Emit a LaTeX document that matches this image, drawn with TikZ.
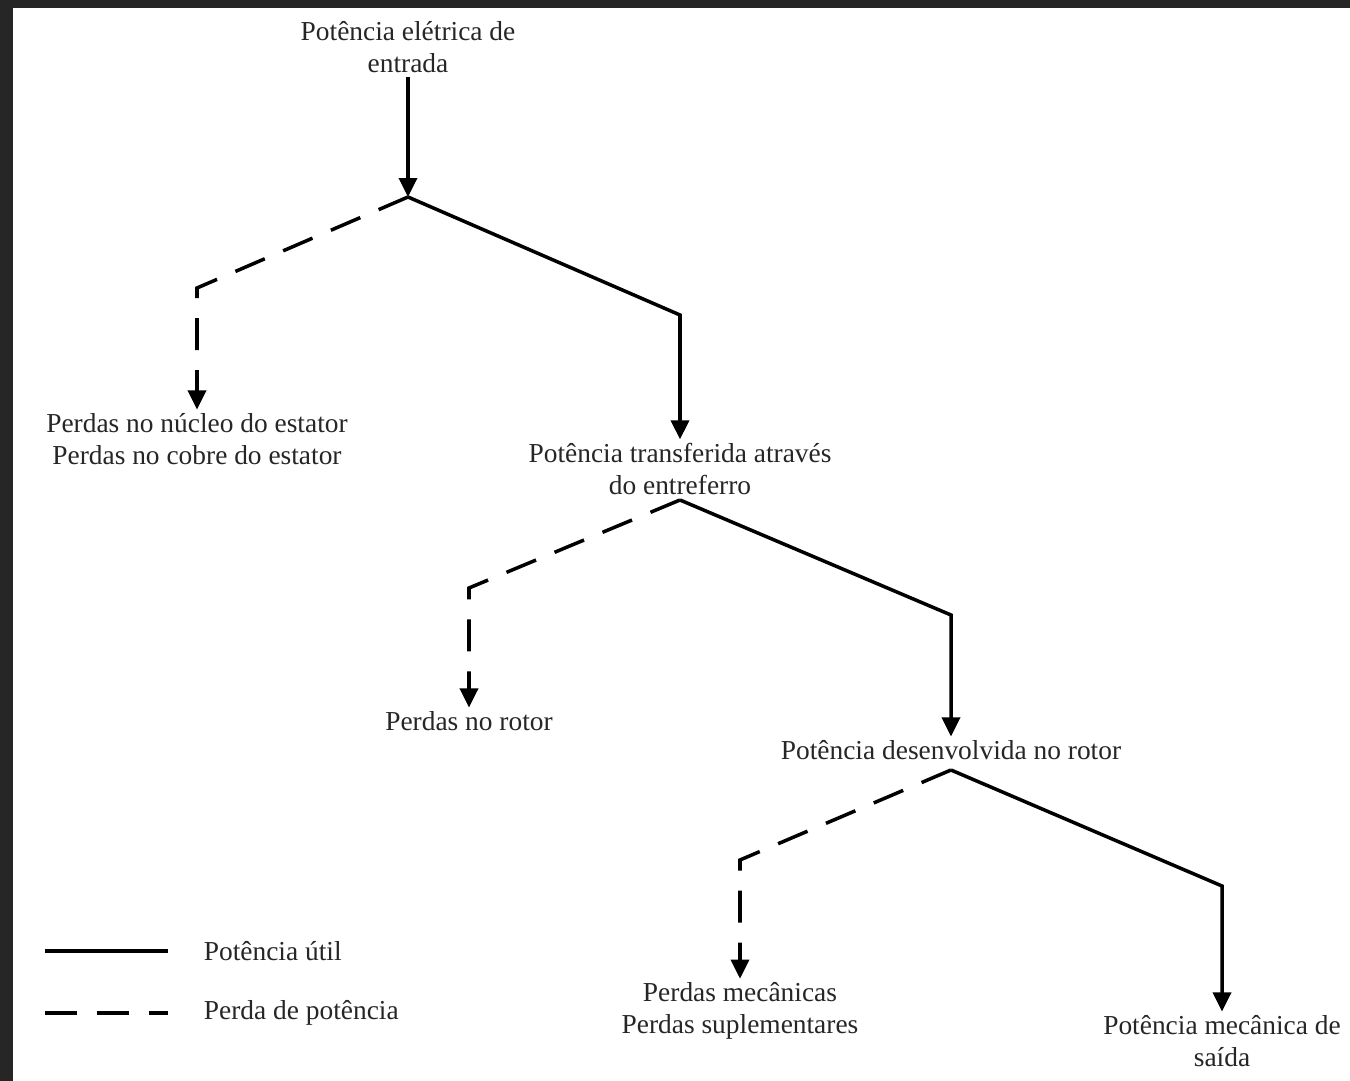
\documentclass[tikz,border=0pt]{standalone}
\usepackage{fontspec}
\setmainfont{Liberation Serif}
\usetikzlibrary{arrows.meta}

\begin{document}
\begin{tikzpicture}[x=0.02cm,y=-0.02cm,
			util/.style={line width=2pt},
			perda/.style={line width=2pt,dash pattern=on 0.64cm off 0.4cm},
			seta/.style={-{Triangle[length=0.38cm,width=0.36cm]}},
			rotulo/.style={font=\fontsize{15.6}{18.2}\selectfont,align=center,inner sep=2pt,text=black!85}]
			          %fond
			          \fill[black!85] (0,0) rectangle (1350,1081);
			          \fill[white] (13,8) rectangle (1350,1081);
			          \useasboundingbox (0,0) rectangle (1350,1081);
			          
			          \node[rotulo] (entrada) at (408,47) {Potência elétrica de\\entrada};
			          \node[rotulo] (estator) at (197,439) {Perdas no núcleo do estator\\Perdas no cobre do estator};
			          \node[rotulo] (transf) at (680,469) {Potência transferida através\\do entreferro};
			          \node[rotulo] (rotor) at (469,721) {Perdas no rotor};
			          \node[rotulo] (desenv) at (951,750) {Potência desenvolvida no rotor};
			          \node[rotulo] (mec) at (740,1011) {Perdas mecânicas\\Perdas suplementares};
			          \node[rotulo] (saida) at (1222,1041) {Potência mecânica de\\saída};
			          
			          \coordinate (j1) at (408,197);
			          \coordinate (j2) at (680,500);
			          \coordinate (j3) at (951,770);
			          \coordinate (c1) at (680,315);
			          \coordinate (d1) at (197,288);
			          \coordinate (c2) at (951,615);
			          \coordinate (d2) at (469,588);
			          \coordinate (c3) at (1222,886);
			          \coordinate (d3) at (740,860);
			          
			          \draw[util,seta] (entrada) -- (j1);
			          \draw[util,seta] (j1) -- (c1) -- (transf);
			          \draw[perda,seta] (j1) -- (d1) -- (estator);
			          \draw[util,seta] (j2) -- (c2) -- (desenv);
			          \draw[perda,seta] (j2) -- (d2) -- (rotor);
			          \draw[util,seta] (j3) -- (c3) -- (saida);
			          \draw[perda,seta] (j3) -- (d3) -- (mec);
			          
			          %legende
			          \coordinate (l1a) at (45,951);
			          \coordinate (l1b) at (168,951);
			          \coordinate (l2a) at (45,1013);
			          \coordinate (l2b) at (168,1013);
			          \draw[util] (l1a) -- (l1b);
			          \draw[perda] (l2a) -- (l2b);
			          \node[rotulo,anchor=west] (util) at (200,951) {Potência útil};
			          \node[rotulo,anchor=west] (perda) at (200,1013) {Perda de potência};
\end{tikzpicture}
\end{document}
